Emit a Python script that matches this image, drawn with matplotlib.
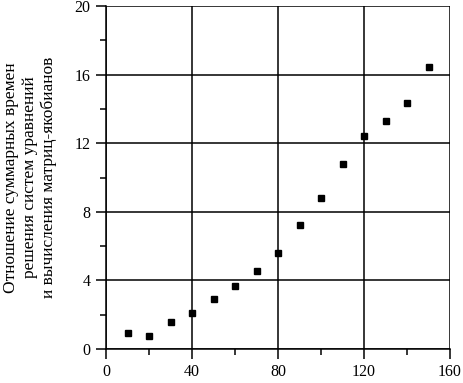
import matplotlib
matplotlib.use("Agg")
import matplotlib.pyplot as plt
from matplotlib.ticker import MultipleLocator

# matrix size vs. time ratio
x_vals = [10, 20, 30, 40, 50, 60, 70, 80, 90, 100, 110, 120, 130, 140, 150]
ratio = [0.92, 0.76, 1.57, 2.12, 2.90, 3.69, 4.53, 5.58, 7.21, 8.79,
         10.77, 12.42, 13.28, 14.36, 16.43]

x_major = [0, 40, 80, 120, 160]
y_major = [0, 4, 8, 12, 16, 20]
ylabel = ("Отношение суммарных времен\n"
          "решения систем уравнений\n"
          "и вычисления матриц-якобианов")

plt.rcParams["font.family"] = ["Liberation Serif", "DejaVu Serif"]

fig = plt.figure(figsize=(4.63, 3.83), dpi=100)
ax = fig.add_axes([0.229, 0.089, 0.743, 0.895])

ax.plot(x_vals, ratio, "s", color="black", ms=5, zorder=3)

ax.set_xlim(0, 160)
ax.set_ylim(0, 20)
ax.set_xticks(x_major)
ax.set_yticks(y_major)
ax.xaxis.set_minor_locator(MultipleLocator(20))
ax.yaxis.set_minor_locator(MultipleLocator(2))
ax.tick_params(which="major", direction="out", length=7.5, width=1.1,
               labelsize=11.5, pad=3.5, color="black")
ax.tick_params(which="minor", direction="out", length=4, width=1.1)
ax.grid(True, which="major", color="black", lw=1.1)

for s in ["top", "right"]:
    ax.spines[s].set_visible(False)
for s in ["left", "bottom"]:
    ax.spines[s].set_linewidth(1.1)

ax.set_ylabel(ylabel, fontsize=12.5, linespacing=1.2, labelpad=13)

fig.savefig("out.png", dpi=100)
